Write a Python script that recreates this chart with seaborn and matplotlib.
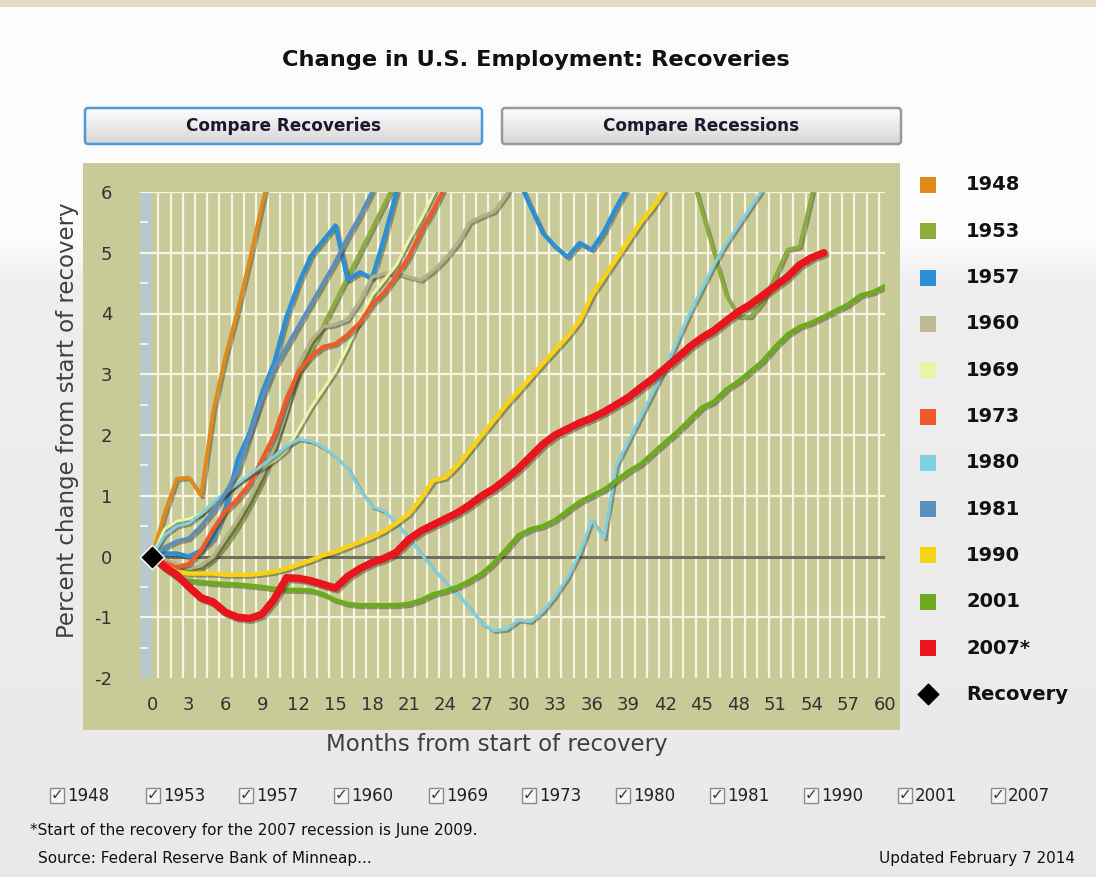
import numpy as np
import pandas as pd
import matplotlib
matplotlib.use("Agg")
import matplotlib.pyplot as plt
import seaborn as sns
from matplotlib import patheffects as pe
from matplotlib.patches import Rectangle, FancyBboxPatch

nan = np.nan

# ---------------- data ----------------
series_names = ["1948", "1953", "1957", "1960", "1969", "1973",
                "1980", "1981", "1990", "2001", "2007"]
legend_labels = ["1948", "1953", "1957", "1960", "1969", "1973",
                 "1980", "1981", "1990", "2001", "2007*"]
series_colors = ["#e08a1c", "#8cad3c", "#2a8fd4", "#b4b08c", "#e6f5a8", "#ef5a2a",
                 "#80d0e4", "#5b8fbe", "#f8d214", "#6cac1c", "#e8141e"]
legend_colors = ["#e08a1c", "#8cad3c", "#2a8fd4", "#bdb996", "#e6f5a8", "#ef5a2a",
                 "#80d0e4", "#5b8fbe", "#f8d214", "#6cac1c", "#e8141e"]

v1948 = [0, 0.7, 1.28, 1.3, 1.0, 2.4, 3.3, 4.05, 4.9, 5.8, 6.6]
v1953 = ([0, -0.1, -0.2, -0.25, -0.2, -0.05, 0.2, 0.5, 0.85, 1.25, 1.75, 2.45, 3.0,
          3.4, 3.8, 4.2, 4.6, 5.0, 5.4, 5.8, 6.2]
         + [nan] * 23
         + [6.4, 5.7, 5.0, 4.3, 3.95, 3.95, 4.2, 4.6, 5.05, 5.1, 5.95, 6.8])
v1957 = ([0, 0.05, 0.05, 0.0, 0.1, 0.3, 0.8, 1.6, 2.05, 2.7, 3.2, 3.95, 4.5, 4.95,
          5.2, 5.45, 4.55, 4.68, 4.58, 5.25, 6.0, 6.7]
         + [nan] * 7
         + [6.7, 6.2, 5.75, 5.32, 5.1, 4.93, 5.16, 5.05, 5.35, 5.75, 6.1, 6.5])
v1960 = [0, -0.05, -0.12, -0.2, -0.15, 0.0, 0.3, 0.6, 0.95, 1.35, 1.8, 2.4, 3.15,
         3.55, 3.78, 3.82, 3.9, 4.2, 4.6, 4.66, 4.66, 4.6, 4.55, 4.7, 4.9, 5.15,
         5.5, 5.6, 5.68, 5.95, 6.4]
v1969 = [0, 0.45, 0.58, 0.62, 0.7, 0.85, 1.02, 1.22, 1.35, 1.45, 1.58, 1.75, 2.1,
         2.45, 2.75, 3.05, 3.45, 3.9, 4.3, 4.55, 4.8, 5.2, 5.55, 5.95, 6.35]
v1973 = [0, -0.1, -0.18, -0.12, 0.1, 0.45, 0.75, 0.95, 1.2, 1.6, 2.0, 2.6, 3.05,
         3.3, 3.45, 3.5, 3.65, 3.85, 4.15, 4.35, 4.62, 4.93, 5.35, 5.7, 6.1]
v1980 = [0, 0.35, 0.5, 0.55, 0.7, 0.9, 1.05, 1.2, 1.35, 1.5, 1.65, 1.82, 1.93, 1.9,
         1.8, 1.65, 1.45, 1.1, 0.82, 0.75, 0.55, 0.3, 0.05, -0.2, -0.42, -0.62,
         -0.85, -1.1, -1.22, -1.2, -1.05, -1.07, -0.9, -0.65, -0.35, 0.05, 0.6, 0.3,
         1.5, 1.9, 2.3, 2.7, 3.1, 3.55, 4.0, 4.4, 4.8, 5.15, 5.45, 5.75, 6.05, 6.4]
v1981 = [0, 0.15, 0.25, 0.3, 0.5, 0.75, 1.05, 1.4, 2.0, 2.6, 3.1, 3.45, 3.8, 4.15,
         4.5, 4.85, 5.25, 5.6, 6.0, 6.35]
v1990 = [0, -0.15, -0.25, -0.28, -0.28, -0.28, -0.3, -0.3, -0.3, -0.28, -0.25, -0.2,
         -0.13, -0.06, 0.02, 0.08, 0.16, 0.24, 0.32, 0.42, 0.55, 0.7, 0.95, 1.25, 1.3,
         1.5, 1.75, 2.0, 2.25, 2.5, 2.72, 2.95, 3.18, 3.4, 3.62, 3.88, 4.3, 4.6, 4.9,
         5.2, 5.5, 5.75, 6.05, 6.35]
v2001 = [0, -0.2, -0.35, -0.4, -0.42, -0.44, -0.45, -0.46, -0.48, -0.5, -0.53, -0.55,
         -0.55, -0.56, -0.62, -0.72, -0.78, -0.8, -0.8, -0.8, -0.8, -0.78, -0.72,
         -0.62, -0.57, -0.5, -0.4, -0.28, -0.1, 0.12, 0.35, 0.45, 0.5, 0.6, 0.75, 0.9,
         1.0, 1.1, 1.25, 1.4, 1.52, 1.7, 1.88, 2.05, 2.25, 2.45, 2.55, 2.75, 2.88,
         3.05, 3.22, 3.45, 3.65, 3.78, 3.85, 3.95, 4.05, 4.15, 4.3, 4.35, 4.45]
v2007 = [0, -0.17, -0.3, -0.5, -0.68, -0.75, -0.92, -1.0, -1.02, -0.95, -0.7, -0.35,
         -0.36, -0.4, -0.46, -0.52, -0.33, -0.2, -0.1, -0.03, 0.07, 0.28, 0.42, 0.52,
         0.62, 0.72, 0.85, 1.0, 1.12, 1.28, 1.45, 1.65, 1.85, 2.0, 2.1, 2.2, 2.28,
         2.38, 2.5, 2.62, 2.78, 2.93, 3.1, 3.27, 3.45, 3.6, 3.72, 3.88, 4.03, 4.15,
         4.3, 4.45, 4.6, 4.8, 4.92, 5.0]

series_values = [v1948, v1953, v1957, v1960, v1969, v1973,
                 v1980, v1981, v1990, v2001, v2007]
series_widths = [2.7, 2.6, 3.1, 2.6, 2.1, 3.0, 2.2, 2.8, 3.2, 3.2, 5.4]

x_ticks = list(range(0, 61, 3))
y_ticks = list(range(-2, 7))
checkbox_labels = ["1948", "1953", "1957", "1960", "1969", "1973",
                   "1980", "1981", "1990", "2001", "2007"]

# ---------------- figure ----------------
sns.set_theme(style="white")
plt.rcParams["font.family"] = ["DejaVu Sans"]

W, H = 1096, 877
fig = plt.figure(figsize=(W / 100, H / 100), dpi=100)

bg = fig.add_axes([0, 0, 1, 1], zorder=-5)
bg.set_xlim(0, W)
bg.set_ylim(H, 0)
bg.axis("off")

# background gradient
rows = np.ones((H, 1, 3))
for y in range(H):
    if y < 7:
        c = (0.90, 0.86, 0.77)
    elif y < 240:
        c = (0.99, 0.99, 0.99)
    elif y < 280:
        t = (y - 240) / 40
        g = 0.99 - t * 0.055
        c = (g, g, g)
    else:
        t = (y - 280) / (H - 280)
        g = 0.935 - t * 0.02
        c = (g, g, g)
    rows[y, 0] = c
bg.imshow(rows, extent=[0, W, H, 0], aspect="auto", zorder=0)

# title
bg.text(536, 60, "Change in U.S. Employment: Recoveries", ha="center", va="center",
        fontsize=16.2, fontweight="bold", color="#111111", zorder=3)

# buttons
grad = np.linspace(0.99, 0.84, 50).reshape(-1, 1)
for (x0, x1, label, ec) in [(85, 482, "Compare Recoveries", "#4a9ad8"),
                             (502, 901, "Compare Recessions", "#9a9a9a")]:
    box = FancyBboxPatch((x0, 108), x1 - x0, 36,
                         boxstyle="round,pad=0,rounding_size=3",
                         fc="none", ec=ec, lw=1.8, zorder=4)
    bg.add_patch(box)
    im = bg.imshow(grad, extent=[x0, x1, 144, 108], aspect="auto",
                   cmap="gray", vmin=0, vmax=1, zorder=3)
    im.set_clip_path(box)
    bg.text((x0 + x1) / 2, 126, label, ha="center", va="center",
            fontsize=12.2, fontweight="bold", color="#1a1a2a", zorder=5)

# khaki panel
bg.add_patch(Rectangle((83, 163), 817, 567, color="#c8cb98", zorder=1, lw=0))

# axis labels
bg.text(68, 420, "Percent change from start of recovery", rotation=90,
        ha="center", va="center", fontsize=16.5, color="#404040", zorder=3)
bg.text(497, 745, "Months from start of recovery", ha="center", va="center",
        fontsize=16.5, color="#404040", zorder=3)

# legend
for i, (lab, col) in enumerate(zip(legend_labels, legend_colors)):
    yc = 185 + 46.3 * i
    bg.add_patch(Rectangle((920, yc - 8), 16, 16, color=col, zorder=3, lw=0))
    bg.text(966, yc, lab, ha="left", va="center", fontsize=14,
            fontweight="bold", color="#111111", zorder=3)
yc = 185 + 46.3 * 11
bg.scatter([928], [yc], marker="D", s=110, color="black", zorder=4)
bg.text(966, yc, "Recovery", ha="left", va="center", fontsize=14,
        fontweight="bold", color="#111111", zorder=3)

# checkboxes
box_x = [50, 146, 239, 334, 429, 522, 616, 710, 804, 898, 991]
for bx, lab in zip(box_x, checkbox_labels):
    bg.add_patch(Rectangle((bx, 788), 14, 15, fc="#f6f6f6", ec="#8c8c8c",
                           lw=1, zorder=3))
    bg.text(bx + 7, 795, "\u2713", ha="center", va="center", fontsize=11,
            color="#3a3a3a", zorder=4)
    bg.text(bx + 17, 796, lab, ha="left", va="center", fontsize=12,
            color="#222222", zorder=4)

bg.text(30, 830, "*Start of the recovery for the 2007 recession is June 2009.",
        ha="left", va="center", fontsize=11, color="#111111", zorder=3)
bg.text(38, 858, "Source: Federal Reserve Bank of Minneap...",
        ha="left", va="center", fontsize=11, color="#111111", zorder=3)
bg.text(1075, 858, "Updated February 7 2014", ha="right", va="center",
        fontsize=11, color="#111111", zorder=3)

# ---------------- data axes ----------------
ax = fig.add_axes([140 / W, (H - 678) / H, 745 / W, 486 / H])
ax.set_facecolor("#c8cb98")
for s in ax.spines.values():
    s.set_visible(False)
ax.set_xlim(-1, 60)
ax.set_ylim(-2, 6)

grid_c = "#f6f5e2"
ax.axvspan(-1, 0, color="#b8c8cd", lw=0, zorder=0.2)
ax.vlines(np.arange(0.5, 60, 1), -2, 6, color=grid_c, lw=1.6, zorder=0.3)
ax.hlines(range(-1, 7), -1, 60, color=grid_c, lw=1.6, zorder=0.3)
ax.hlines(np.arange(-1.5, 6, 1), -1, -0.35, color="#eef2f2", lw=1.4, zorder=0.4)
ax.hlines(0, 0, 60, color="#6e6e62", lw=2.2, zorder=1)

shadow = [pe.SimpleLineShadow(offset=(1.3, -1.3), shadow_color="#2a2a18", alpha=0.4),
          pe.Normal()]

for name, vals, col, lw in zip(series_names, series_values, series_colors, series_widths):
    vals = np.asarray(vals, dtype=float)
    months = np.arange(len(vals))
    ok = ~np.isnan(vals)
    idx = np.where(ok)[0]
    runs = np.split(idx, np.where(np.diff(idx) > 1)[0] + 1)
    for r in runs:
        if len(r) < 2:
            continue
        df = pd.DataFrame({"month": months[r], "value": vals[r]})
        sns.lineplot(data=df, x="month", y="value", ax=ax, color=col, lw=lw,
                     estimator=None, sort=False, legend=False,
                     path_effects=shadow, zorder=2,
                     solid_joinstyle="round", solid_capstyle="round")

sns.scatterplot(x=[0], y=[0], marker="D", s=150, color="black", ax=ax,
                zorder=10, clip_on=False, legend=False)

ax.set_xticks(x_ticks)
ax.set_yticks(y_ticks)
ax.set_xticklabels([str(t) for t in x_ticks])
ax.set_yticklabels([str(t) for t in y_ticks])
ax.tick_params(axis="both", length=0, labelsize=13, colors="#333333")
ax.tick_params(axis="y", pad=20)
ax.tick_params(axis="x", pad=13)
ax.set_xlabel("")
ax.set_ylabel("")

fig.savefig("out.png", dpi=100)
